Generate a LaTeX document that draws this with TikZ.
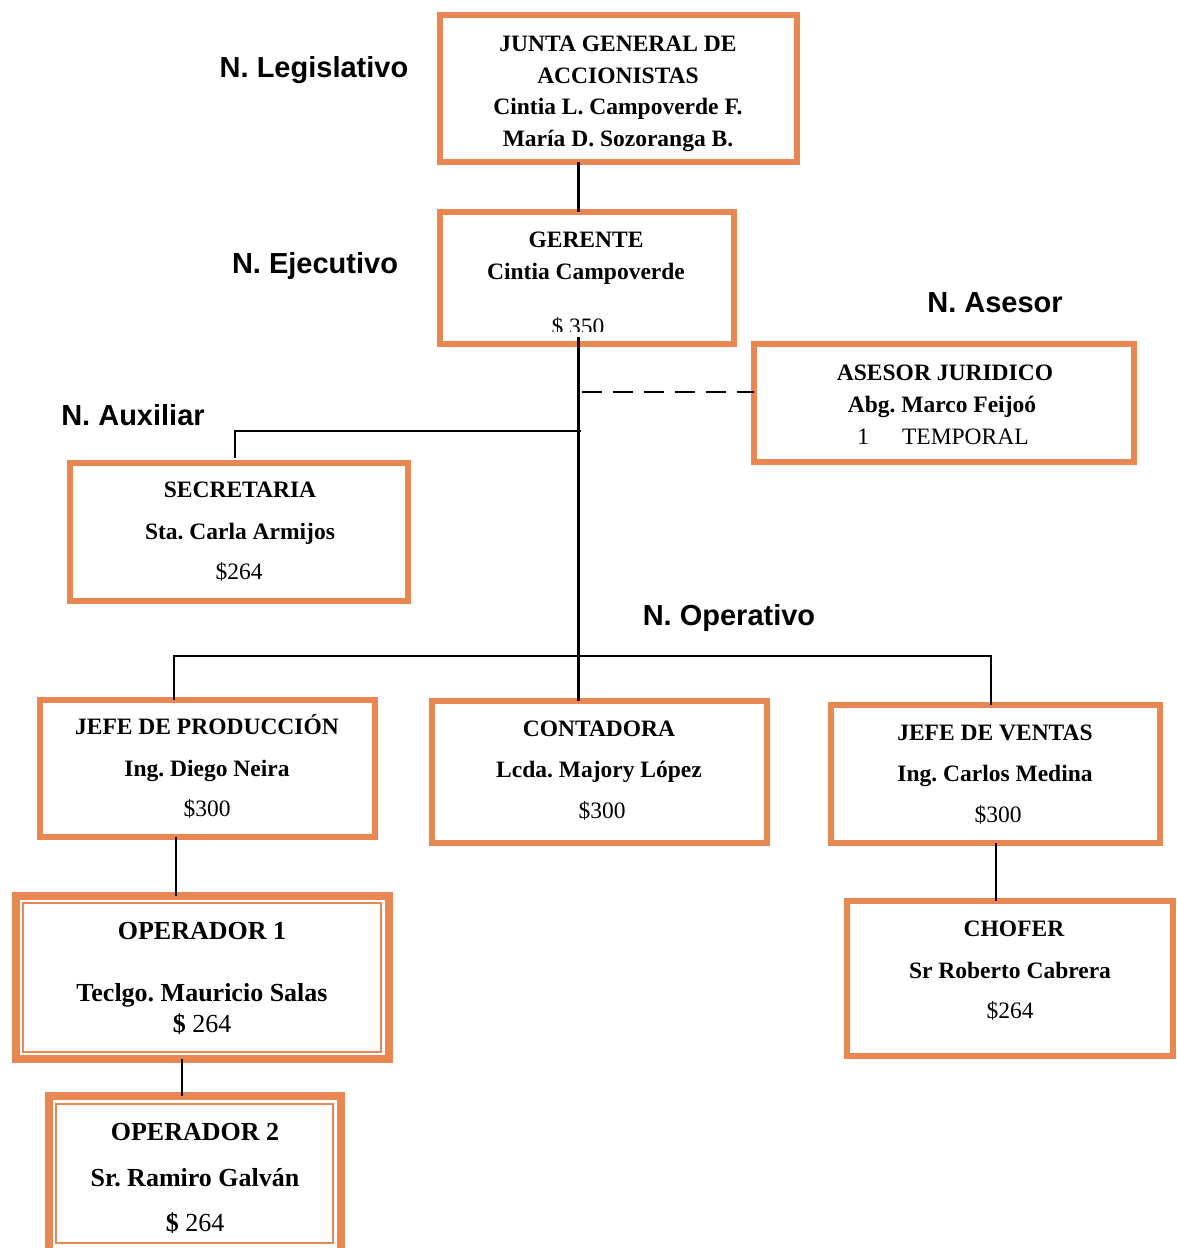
\documentclass[tikz,border=0pt]{standalone}
\usepackage{fontspec}
\setmainfont{Liberation Serif}
\newfontfamily\levelfont{Liberation Sans}
\definecolor{orgline}{RGB}{233,135,83}
\frenchspacing
\begin{document}
\begin{tikzpicture}[x=1pt,y=-1pt,
  box/.style={draw=orgline, line width=6pt, inner sep=0pt, outer sep=0pt},
  dbox/.style={draw=orgline, line width=8pt, inner sep=0pt, outer sep=0pt},
  link/.style={line width=2.3pt, black},
  tb/.style={anchor=base, inner sep=0pt, font=\fontsize{23.5}{28}\selectfont\bfseries},
  tr/.style={anchor=base, inner sep=0pt, font=\fontsize{23.5}{28}\selectfont},
  ob/.style={anchor=base, inner sep=0pt, font=\fontsize{26}{30}\selectfont\bfseries},
  orr/.style={anchor=base, inner sep=0pt, font=\fontsize{26}{30}\selectfont},
  lvl/.style={anchor=base, inner sep=0pt, font=\levelfont\fontsize{29}{33}\selectfont\bfseries}]
\useasboundingbox (0,0) rectangle (1177,1248);
\clip (0,0) rectangle (1177,1248);

% level labels
\node[lvl] (lleg) at (314,77) {N. Legislativo};
\node[lvl] (leje) at (315,273) {N. Ejecutivo};
\node[lvl] (lase) at (995,312) {N. Asesor};
\node[lvl] (laux) at (133,425) {N. Auxiliar};
\node[lvl] (lope) at (729,625) {N. Operativo};

% boxes
\node[box, minimum width=356.5pt, minimum height=147pt] (junta) at (618.25,88.5) {};
\node[box, minimum width=294pt, minimum height=132pt] (gerente) at (586.5,277.5) {};
\node[box, minimum width=380pt, minimum height=118pt] (asesor) at (943.5,402.5) {};
\node[box, minimum width=338pt, minimum height=138pt] (secretaria) at (239,532) {};
\node[box, minimum width=335pt, minimum height=137pt] (produccion) at (207.5,768.5) {};
\node[box, minimum width=335pt, minimum height=142pt] (contadora) at (599.5,772) {};
\node[box, minimum width=329pt, minimum height=138pt] (ventas) at (995.5,774) {};
\node[box, minimum width=326pt, minimum height=155pt] (chofer) at (1010,978.5) {};
\node[dbox, minimum width=373pt, minimum height=163pt] (op1) at (202.5,977.5) {};
\node[dbox, minimum width=292pt, minimum height=156pt] (op2) at (195,1174) {};
% inner rule of the double frames
\draw[orgline, line width=2pt] ([shift={(7,7)}]op1.north west) rectangle ([shift={(-8,-7)}]op1.south east);
\draw[orgline, line width=2pt] ([shift={(7,8)}]op2.north west) rectangle ([shift={(-8,-9)}]op2.south east);

% connector helpers
\coordinate (spine) at (578.5,392);
\coordinate (auxj) at (581,431);
\coordinate (auxc) at (235,431);
\coordinate (opL) at (174,656);
\coordinate (opR) at (991,656);
\coordinate (pv) at (176,0);
\coordinate (ov) at (182,0);
\coordinate (vv) at (996,0);

% connectors
\draw[link] (junta.south -| spine) -- (gerente.north -| spine);
\draw[link] ([yshift=7pt]gerente.south -| spine) -- (contadora.north -| spine);
\draw[link, dash pattern=on 20pt off 11pt] ([xshift=3pt]spine) -- (asesor.west |- spine);
\draw[link] (auxj) -- (auxc) -- ([yshift=5pt]secretaria.north -| auxc);
\draw[link] (opL |- produccion.north) -- (opL) -- (opR) -- (opR |- ventas.north);
\draw[link] (produccion.south -| pv) -- (op1.north -| pv);
\draw[link] (op1.south -| ov) -- (op2.north -| ov);
\draw[link] (ventas.south -| vv) -- (chofer.north -| vv);

% texts
\node[tb] (j1) at (618,51) {JUNTA GENERAL DE};
\node[tb] (j2) at (618,83) {ACCIONISTAS};
\node[tb] (j3) at (618,114) {Cintia L. Campoverde F.};
\node[tb] (j4) at (618,146) {María D. Sozoranga B.};

\node[tb] (g1) at (586,247) {GERENTE};
\node[tb] (g2) at (586,279) {Cintia Campoverde};
\begin{scope}
  \clip (445,300) rectangle (728,331.5);
  \node[tr] (g3) at (578,334) {\$ 350};
\end{scope}

\node[tb] (a1) at (945,380) {ASESOR JURIDICO};
\node[tb] (a2) at (942,412) {Abg. Marco Feijoó};
\node[tr] (a3) at (943,444) {1\hspace{33pt}TEMPORAL};

\node[tb] (s1) at (240,497) {SECRETARIA};
\node[tb] (s2) at (240,539) {Sta. Carla Armijos};
\node[tr] (s3) at (239,579) {\$264};

\node[tb] (p1) at (207,734) {JEFE DE PRODUCCIÓN};
\node[tb] (p2) at (207,776) {Ing. Diego Neira};
\node[tr] (p3) at (207,816) {\$300};

\node[tb] (c1) at (599,736) {CONTADORA};
\node[tb] (c2) at (599,777) {Lcda. Majory López};
\node[tr] (c3) at (602,818) {\$300};

\node[tb] (v1) at (995,740) {JEFE DE VENTAS};
\node[tb] (v2) at (995,781) {Ing. Carlos Medina};
\node[tr] (v3) at (998,822) {\$300};

\node[tb] (h1) at (1014,936) {CHOFER};
\node[tb] (h2) at (1010,978) {Sr Roberto Cabrera};
\node[tr] (h3) at (1010,1018) {\$264};

\node[ob] (o11) at (202,939) {OPERADOR 1};
\node[ob] (o12) at (202,1001) {Teclgo. Mauricio Salas};
\node[orr] (o13) at (202,1032) {{\bfseries\$} 264};

\node[ob] (o21) at (195,1140) {OPERADOR 2};
\node[ob] (o22) at (195,1186) {Sr. Ramiro Galván};
\node[orr] (o23) at (195,1231) {{\bfseries\$} 264};
\end{tikzpicture}
\end{document}
